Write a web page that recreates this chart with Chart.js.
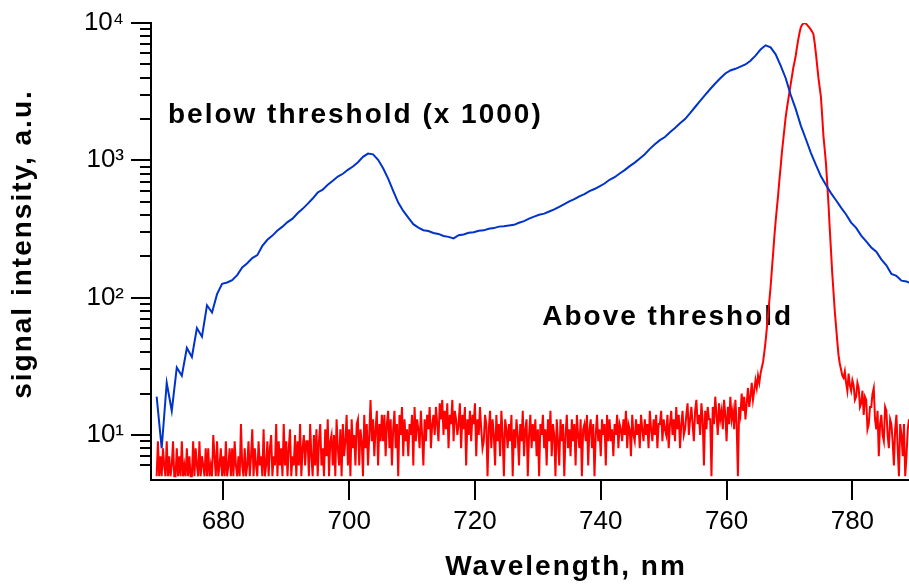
<!DOCTYPE html>
<html>
<head>
<meta charset="utf-8">
<script src="https://cdn.jsdelivr.net/npm/chart.js@4.4.1/dist/chart.umd.min.js"></script>
<style>
html,body{margin:0;padding:0;background:#fff;}
#wrap{width:909px;height:584px;position:relative;}
</style>
</head>
<body>
<div id="wrap"><canvas id="c" width="909" height="584"></canvas></div>
<script>
// ---- data ----
const xTickLabels = [680, 700, 720, 740, 760, 780];
const yTickLabels = ['10¹', '10²', '10³', '10⁴'];
const xTitle = 'Wavelength, nm';
const yTitle = 'signal intensity, a.u.';
const blueLabel = 'below threshold (x 1000)';
const redLabel = 'Above threshold';

// below threshold (x1000): wavelengths 669.4 nm onward, every 0.8 nm
const blueStart = 669.4, blueStep = 0.8;
const blueValues = [
 19, 8, 24, 15, 31, 27, 43, 37, 60, 52,
 88, 78, 106, 126, 129, 134, 146, 166, 178, 194,
 204, 238, 264, 283, 308, 329, 355, 376, 412, 443,
 482, 527, 583, 612, 663, 709, 762, 798, 853, 902,
 968, 1060, 1120, 1105, 1010, 875, 735, 600, 492, 428,
 382, 343, 324, 310, 306, 296, 291, 281, 277, 270,
 285, 288, 297, 299, 307, 309, 317, 321, 329, 331,
 335, 339, 351, 361, 376, 389, 401, 409, 424, 439,
 459, 479, 502, 521, 547, 568, 597, 618, 647, 678,
 722, 753, 802, 848, 907, 962, 1032, 1108, 1212, 1308,
 1402, 1478, 1602, 1718, 1862, 1998, 2205, 2445, 2705, 2995,
 3305, 3625, 3955, 4290, 4510, 4640, 4810, 4990, 5310, 5790,
 6410, 6880, 6640, 5910, 4890, 3960, 2990, 2360, 1790, 1430,
 1135, 925, 765, 662, 577, 512, 452, 403, 352, 322,
 283, 257, 232, 216, 190, 172, 149, 144, 133, 131,
 127
];

// above threshold: wavelengths 669.4 nm onward, every 0.2 nm
const redStart = 669.4, redStep = 0.2;
const redValues = [
 5,9,5,7,5,8,6,5,9,5, 7,5,6,9,5,5,8,5,7,5,
 9,5,6,5,8,5,7,5,5,9, 5,8,6,5,9,5,7,6,5,8,
 5,8,5,6,5,10,7,5,9,5, 6,8,5,7,5,9,5,6,8,5,
 8,5,9,6,5,7,5,12,6,5, 8,5,6,9,5,7,11,5,8,6,
 5,9,6,7,5,11,5,6,9,5, 8,10,5,7,6,12,5,9,6,8,
 5,12,6,9,5,8,11,5,7,6, 10,5,9,6,12,5,8,10,6,9,
 9,5,12,7,5,10,6,11,5,9, 12,6,8,5,11,7,13,5,9,10,
 6,10,5,13,8,6,11,5,12,7, 9,14,6,11,5,13,8,10,6,12,
 13,6,11,9,5,14,8,12,6,10, 18,9,13,7,11,15,6,12,9,14,
 9,14,7,12,15,8,13,6,11,15, 8,12,5,14,10,16,7,13,9,11,
 7,12,10,14,6,16,9,13,11,8, 15,10,6,13,9,14,11,16,8,12,
 14,10,16,12,9,17,13,18,10,15, 11,17,8,14,12,18,9,15,13,10,
 12,17,8,14,11,16,6,13,10,15, 9,14,12,17,7,13,10,16,11,8,
 9,14,12,5,11,15,8,13,10,6, 14,9,12,7,15,10,5,13,11,8,
 12,9,14,5,11,8,13,10,6,12, 9,15,7,11,13,5,10,14,8,12,
 9,13,7,11,5,12,10,14,8,11, 6,13,9,15,7,12,10,5,13,9,
 6,13,9,12,5,10,14,8,11,7, 13,9,12,6,14,10,8,13,5,11,
 12,9,14,6,11,13,8,12,5,10, 14,9,11,7,13,10,12,6,14,9,
 13,9,11,7,12,10,14,8,12,11, 9,13,10,15,8,12,11,7,14,10,
 9,13,10,12,8,14,11,9,13,10, 12,8,15,11,9,13,10,14,8,12,
 12,15,9,13,11,10,14,8,12,15, 10,13,9,16,11,14,8,12,15,10,
 11,14,17,10,13,16,12,9,15,18, 12,14,10,17,13,6,15,11,16,13,
 13,5,16,12,19,14,10,17,13,15, 11,18,14,9,16,12,19,13,15,11,
 18,12,5,16,14,20,15,19,13,17, 22,16,19,24,18,21,25,22,27,24,
 28,31,34,40,48,60,75,95,120,160, 210,280,360,450,560,720,900,1150,1400,1700,
 2075,2400,2750,3150,3600,4100,4700,5200,5800,6700, 7600,8500,9300,9700,9900,10000,9900,9700,9450,9200,
 8950,8650,8300,7200,6000,4900,4000,3400,2900,2100, 1500,1200,950,680,480,320,220,150,110,80,
 62,48,38,33,30,27,26,29,24,21, 28,23,21,25,23,18,19,24,22,16,
 17,21,14,19,18,11,12,16,16,20, 22,13,11,15,7,12,14,10,9,16,
 15,10,8,13,12,9,6,11,14,8, 5,12,10,7,12,5,7,11,13,9,
 11
];

// label anchors (data coordinates)
const blueLabelAt = {x: 671.2, y: 1866};
const redLabelAt = {x: 730.7, y: 62.8};

// ---- build ----
const FONT = "'Liberation Sans', Arial, Helvetica, sans-serif";
const bluePts = blueValues.map((v, i) => ({x: +(blueStart + i * blueStep).toFixed(2), y: v}));
const redPts = redValues.map((v, i) => ({x: +(redStart + i * redStep).toFixed(2), y: v}));

function isPow10(v) {
  const e = Math.log10(v);
  return Math.abs(e - Math.round(e)) < 1e-9;
}

const decor = {
  id: 'decor',
  beforeDatasetsDraw(chart) {
    const ctx = chart.ctx, xs = chart.scales.x, ys = chart.scales.y;
    ctx.save();
    ctx.fillStyle = '#000';
    ctx.font = "bold 28px " + FONT;
    ctx.letterSpacing = '2px';
    ctx.textAlign = 'left';
    ctx.textBaseline = 'alphabetic';
    ctx.fillText(blueLabel, xs.getPixelForValue(blueLabelAt.x), ys.getPixelForValue(blueLabelAt.y));
    ctx.fillText(redLabel, xs.getPixelForValue(redLabelAt.x), ys.getPixelForValue(redLabelAt.y));
    ctx.restore();
  },
  afterDraw(chart) {
    const ctx = chart.ctx, xs = chart.scales.x, ys = chart.scales.y, a = chart.chartArea;
    ctx.save();
    ctx.strokeStyle = '#000';
    ctx.lineWidth = 2;
    ctx.lineCap = 'butt';
    ys.ticks.forEach(t => {
      const v = t.value;
      const p = Math.pow(10, Math.floor(Math.log10(v) + 1e-9));
      const s = v / p;
      if (Math.abs(s - Math.round(s)) > 1e-6) return;
      const len = isPow10(v) ? 20 : 11;
      const y = Math.round(ys.getPixelForValue(v));
      ctx.beginPath();
      ctx.moveTo(a.left - len, y);
      ctx.lineTo(a.left + 1, y);
      ctx.stroke();
    });
    xs.ticks.forEach(t => {
      if (!xTickLabels.includes(t.value)) return;
      const x = Math.round(xs.getPixelForValue(t.value));
      ctx.beginPath();
      ctx.moveTo(x, a.bottom);
      ctx.lineTo(x, a.bottom + 20);
      ctx.stroke();
    });
    ctx.fillStyle = '#000';
    ctx.font = "bold 28px " + FONT;
    ctx.letterSpacing = '2px';
    ctx.textAlign = 'center';
    ctx.textBaseline = 'alphabetic';
    ctx.fillText(xTitle, 566, 575);
    ctx.translate(31, 244);
    ctx.rotate(-Math.PI / 2);
    ctx.fillText(yTitle, 0, 0);
    ctx.restore();
  }
};

new Chart(document.getElementById('c').getContext('2d'), {
  type: 'scatter',
  data: {
    datasets: [
      {label: redLabel, data: redPts, showLine: true, borderColor: '#ff0000', backgroundColor: '#ff0000',
       borderWidth: 2, pointRadius: 0, tension: 0, order: 2},
      {label: blueLabel, data: bluePts, showLine: true, borderColor: '#0033cc', backgroundColor: '#0033cc',
       borderWidth: 2, pointRadius: 0, tension: 0, order: 1}
    ]
  },
  options: {
    responsive: false,
    animation: false,
    devicePixelRatio: 1,
    layout: {padding: {top: 23, left: 0, right: 0, bottom: 0}},
    plugins: {legend: {display: false}, tooltip: {enabled: false}},
    scales: {
      x: {
        type: 'linear', min: 668.5, max: 789,
        grid: {display: false, drawTicks: false},
        border: {display: true, color: '#000', width: 2},
        ticks: {
          stepSize: 20, includeBounds: false, autoSkip: false, maxRotation: 0, padding: 26,
          color: '#000', font: {family: FONT, size: 26},
          callback: v => xTickLabels.includes(v) ? String(v) : ''
        },
        afterFit(s) { s.height = 104; s.paddingLeft = 0; s.paddingRight = 0; }
      },
      y: {
        type: 'logarithmic', min: 4.7, max: 10000,
        grid: {display: false, drawTicks: false},
        border: {display: true, color: '#000', width: 2},
        ticks: {
          autoSkip: false, padding: 27, color: '#000', font: {family: FONT, size: 26},
          callback: v => isPow10(v) ? (yTickLabels[Math.round(Math.log10(v)) - 1] || '') : ''
        },
        afterFit(s) { s.width = 151; s.paddingTop = 0; s.paddingBottom = 0; }
      }
    }
  },
  plugins: [decor]
});
</script>
</body>
</html>
